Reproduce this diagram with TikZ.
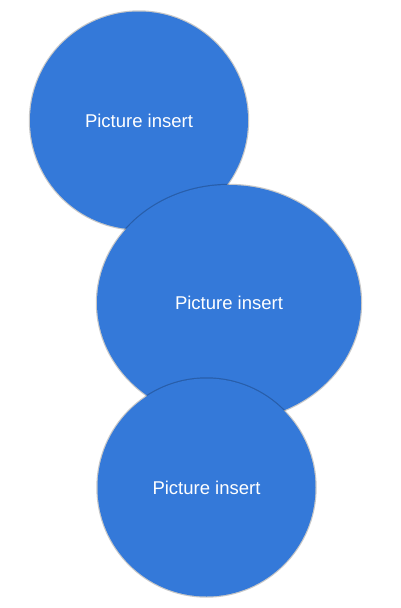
\documentclass[tikz,border=0pt]{standalone}
\usepackage{fontspec}
\setmainfont{Liberation Sans}
\usetikzlibrary{shapes.geometric}
\definecolor{picblue}{RGB}{52,121,217}
\definecolor{picedge}{RGB}{200,200,200}
\tikzset{
  picshape/.style={fill=picblue, text=white, inner sep=0pt,
    preaction={draw=picedge, line width=2.4pt, blend mode=multiply},
    font=\fontsize{18.5}{22}\selectfont},
  piccircle/.style={picshape, circle, minimum size=218pt},
  picellipse/.style={picshape, ellipse, minimum width=264pt, minimum height=236pt}
}
\begin{document}
\begin{tikzpicture}[x=1pt,y=-1pt]
\useasboundingbox (0,0) rectangle (400,608);
\node[piccircle] (c1) at (139,120.5) {Picture insert};
\node[picellipse] (c2) at (229,303) {Picture insert};
\node[piccircle] (c3) at (206.5,487.5) {Picture insert};
\end{tikzpicture}
\end{document}
